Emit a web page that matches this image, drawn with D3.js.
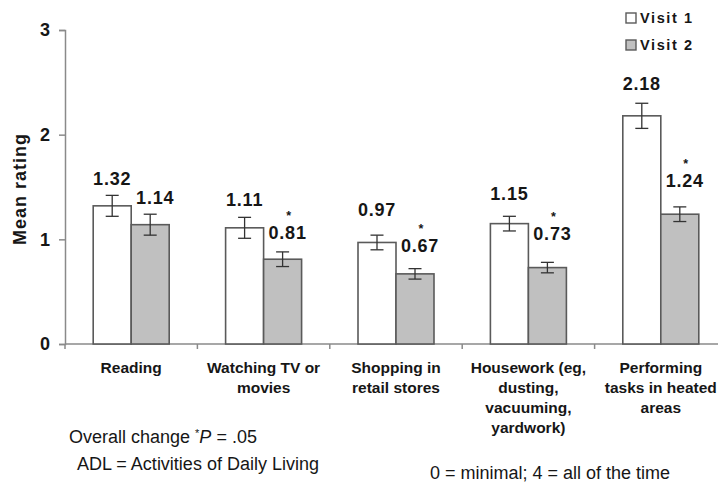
<!DOCTYPE html>
<html>
<head>
<meta charset="utf-8">
<script src="https://cdn.jsdelivr.net/npm/d3@7"></script>
<style>
  html, body { margin: 0; padding: 0; background: #fff; }
  svg { display: block; font-family: "Liberation Sans", Arial, sans-serif; }
</style>
</head>
<body>
<svg id="chart" width="718" height="485"></svg>
<script>
// Activity categories (each entry is the wrapped label lines)
const categories = [
  ["Reading"],
  ["Watching TV or", "movies"],
  ["Shopping in", "retail stores"],
  ["Housework (eg,", "dusting,", "vacuuming,", "yardwork)"],
  ["Performing", "tasks in heated", "areas"]
];
const seriesNames = ["Visit 1", "Visit 2"];
const visit1 = [1.32, 1.11, 0.97, 1.15, 2.18];
const visit2 = [1.14, 0.81, 0.67, 0.73, 1.24];
const visit1Err = [0.10, 0.10, 0.07, 0.07, 0.12];
const visit2Err = [0.10, 0.07, 0.05, 0.05, 0.07];
const visit2Significant = [false, true, true, true, true];
const yTicks = [0, 1, 2, 3];

// Layout: space left between each error-bar cap and its value label
const labelGap1 = [10, 11.5, 19, 16.5, 13];
const labelGap2 = [10.5, 12.5, 17, 22.5, 19.5];

const svg = d3.select("#chart");
const ink = "#161616";
const axisGrey = "#8a8a8a";
const barEdge = "#5a5a5a";
const fills = ["#ffffff", "#c0c0c0"];

const ids = categories.map((_, i) => i);
const x = d3.scaleBand().domain(ids).range([65, 727])
  .paddingInner(0.426).paddingOuter(0.213);
const xs = d3.scaleBand().domain([0, 1]).range([0, x.bandwidth()]);
const y = d3.scaleLinear().domain([0, 3]).range([344, 30]);

// Y axis
const yAxis = svg.append("g").attr("transform", "translate(65,0)")
  .call(d3.axisLeft(y).tickValues(yTicks).tickSize(6).tickPadding(9).tickFormat(d3.format("d")));
yAxis.select(".domain").attr("stroke", axisGrey).attr("stroke-width", 1.5);
yAxis.selectAll(".tick line").attr("stroke", axisGrey).attr("stroke-width", 1.5);
yAxis.selectAll(".tick text").attr("fill", ink).attr("font-size", 18)
  .attr("font-weight", "bold").attr("font-family", "Liberation Sans, Arial, sans-serif");

// X axis: ticks at category boundaries
const boundaries = ids.map(i => x(i) - x.step() * x.paddingOuter()).concat([727]);
const xg = svg.append("g");
xg.append("line").attr("x1", 65).attr("x2", 727).attr("y1", y(0)).attr("y2", y(0))
  .attr("stroke", axisGrey).attr("stroke-width", 1.5);
xg.selectAll("line.tk").data(boundaries).join("line").attr("class", "tk")
  .attr("x1", d => d).attr("x2", d => d).attr("y1", y(0)).attr("y2", y(0) + 5)
  .attr("stroke", axisGrey).attr("stroke-width", 1.5);

// Category labels
const catG = svg.append("g");
categories.forEach((lines, i) => {
  const t = catG.append("text").attr("text-anchor", "middle")
    .attr("font-size", 15.5).attr("font-weight", "bold").attr("fill", ink);
  lines.forEach((ln, k) => {
    t.append("tspan").attr("x", x(i) + x.bandwidth() / 2).attr("y", 373 + k * 20).text(ln);
  });
});

// Y axis title
svg.append("text")
  .attr("transform", `translate(26,${(y(0) + y(3)) / 2 + 2}) rotate(-90)`)
  .attr("text-anchor", "middle").attr("font-size", 18).attr("font-weight", "bold")
  .attr("letter-spacing", 1).attr("fill", ink).text("Mean rating");

// Bars, error bars and value labels
const series = [
  { vals: visit1, err: visit1Err, gap: labelGap1, dx: 0, star: visit1.map(() => false) },
  { vals: visit2, err: visit2Err, gap: labelGap2, dx: 5, star: visit2Significant }
];
series.forEach((s, si) => {
  const g = svg.append("g");
  s.vals.forEach((v, i) => {
    const bx = x(i) + xs(si);
    const cx = bx + xs.bandwidth() / 2;
    g.append("rect").attr("x", bx).attr("y", y(v))
      .attr("width", xs.bandwidth()).attr("height", y(0) - y(v))
      .attr("fill", fills[si]).attr("stroke", barEdge).attr("stroke-width", 1.6);
    const top = y(v + s.err[i]), bot = y(v - s.err[i]);
    g.append("line").attr("x1", cx).attr("x2", cx).attr("y1", top).attr("y2", bot)
      .attr("stroke", "#333").attr("stroke-width", 1.3);
    [top, bot].forEach(yy => g.append("line").attr("x1", cx - 6.5).attr("x2", cx + 6.5)
      .attr("y1", yy).attr("y2", yy).attr("stroke", "#333").attr("stroke-width", 1.3));
    const base = top - s.gap[i];
    g.append("text").attr("x", cx + s.dx).attr("y", base).attr("text-anchor", "middle")
      .attr("font-size", 18).attr("font-weight", "bold").attr("letter-spacing", 0.8)
      .attr("fill", ink).text(v.toFixed(2));
    if (s.star[i]) {
      // significance marker sits just above the value label
      g.append("text").attr("x", cx + s.dx + 1).attr("y", base - 19).attr("text-anchor", "middle")
        .attr("font-size", 12.5).attr("font-weight", "bold").attr("fill", ink).text("*");
    }
  });
});

// Legend
const leg = svg.append("g");
seriesNames.forEach((name, i) => {
  const yy = 13 + i * 27;
  leg.append("rect").attr("x", 626).attr("y", yy).attr("width", 10).attr("height", 10)
    .attr("fill", fills[i]).attr("stroke", barEdge).attr("stroke-width", 1.4);
  leg.append("text").attr("x", 640).attr("y", yy + 10).attr("font-size", 14.5)
    .attr("font-weight", "bold").attr("letter-spacing", 1.6).attr("fill", ink).text(name);
});

// Footnotes
const fn = svg.append("g").attr("fill", ink).attr("font-size", 18);
const f1 = fn.append("text").attr("x", 69).attr("y", 443);
f1.append("tspan").text("Overall change ");
f1.append("tspan").attr("font-size", 11).attr("dy", -6).text("*");
f1.append("tspan").attr("font-style", "italic").attr("dy", 6).text("P");
f1.append("tspan").text(" = .05");
fn.append("text").attr("x", 77).attr("y", 470).text("ADL = Activities of Daily Living");
fn.append("text").attr("x", 430).attr("y", 479).text("0 = minimal; 4 = all of the time");
</script>
</body>
</html>
